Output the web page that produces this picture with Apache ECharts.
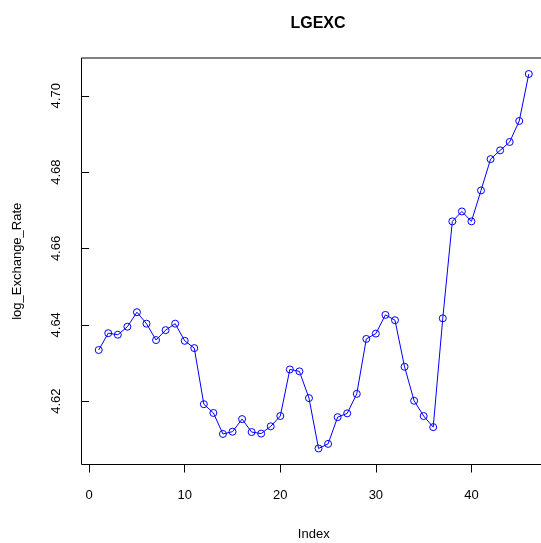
<!DOCTYPE html>
<html>
<head>
<meta charset="utf-8">
<script src="https://cdn.jsdelivr.net/npm/echarts@6/dist/echarts.min.js"></script>
<style>html,body{margin:0;padding:0;background:#fff}#c{width:541px;height:543px}</style>
</head>
<body>
<div id="c"></div>
<script>
const indexValues = [1,2,3,4,5,6,7,8,9,10,11,12,13,14,15,16,17,18,19,20,21,22,23,24,25,26,27,28,29,30,31,32,33,34,35,36,37,38,39,40,41,42,43,44,45,46];
const logExchangeRate = [4.6334,4.6378,4.6374,4.6395,4.6433,4.6403,4.6360,4.6386,4.6403,4.6358,
  4.6339,4.6192,4.6169,4.6114,4.6120,4.6153,4.6119,4.6115,4.6134,4.6161,
  4.6283,4.6278,4.6208,4.6076,4.6088,4.6158,4.6168,4.6219,4.6363,4.6377,
  4.6426,4.6412,4.6290,4.6201,4.6161,4.6132,4.6417,4.6671,4.6697,4.6671,
  4.6752,4.6834,4.6857,4.6879,4.6934,4.7057];
const xTicks = [0,10,20,30,40];
const yTicks = [4.62,4.64,4.66,4.68,4.70];

const chart = echarts.init(document.getElementById('c'), null, {renderer:'canvas'});
const font = 'Liberation Sans, Arial, sans-serif';
chart.setOption({
  animation:false,
  backgroundColor:'#fff',
  title:{text:'LGEXC', left:313, top:11, textAlign:'center',
    textStyle:{fontFamily:font, fontSize:16, fontWeight:'bold', color:'#000'}},
  grid:{left:81.5, right:-5, top:58, bottom:78.5, containLabel:false, outerBoundsMode:'none',
    show:true, borderColor:'#000', borderWidth:1, backgroundColor:'transparent'},
  xAxis:{type:'value', min:-0.8, max:47.8,
    name:'Index', nameLocation:'middle', nameGap:63,
    nameTextStyle:{fontFamily:font, fontSize:13, color:'#000'},
    splitLine:{show:false},
    axisLine:{show:false},
    axisTick:{show:true, length:8, customValues:xTicks, lineStyle:{color:'#000'}},
    axisLabel:{customValues:xTicks, margin:24, fontFamily:font, fontSize:13, color:'#000'}
  },
  yAxis:{type:'value', min:4.6034, max:4.7099,
    name:'log_Exchange_Rate', nameLocation:'middle', nameGap:58,
    nameTextStyle:{fontFamily:font, fontSize:13, color:'#000'},
    splitLine:{show:false},
    axisLine:{show:false},
    axisTick:{show:true, length:8, customValues:yTicks, lineStyle:{color:'#000'}},
    axisLabel:{customValues:yTicks, rotate:90, margin:19, fontFamily:font, fontSize:13, color:'#000',
      formatter:v=>v.toFixed(2)}
  },
  series:[{
    type:'line',
    data:indexValues.map((x,i)=>[x, logExchangeRate[i]]),
    symbol:'circle', symbolSize:7,
    lineStyle:{color:'#0000ff', width:1},
    itemStyle:{color:'rgba(0,0,0,0)', borderColor:'#0000ff', borderWidth:1},
    showAllSymbol:true
  }]
});
</script>
</body>
</html>
